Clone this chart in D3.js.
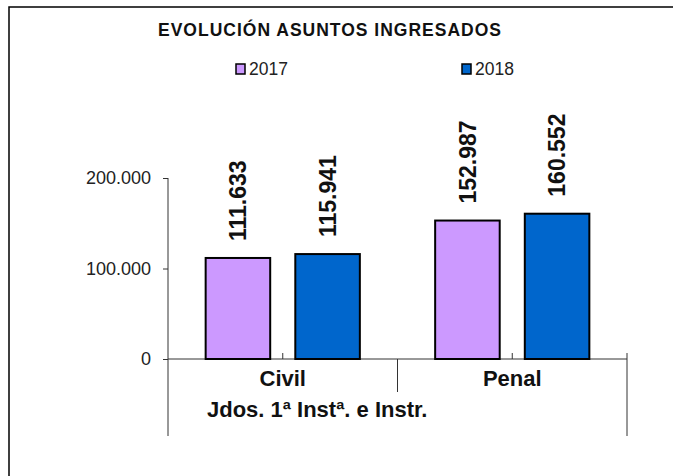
<!DOCTYPE html>
<html>
<head>
<meta charset="utf-8">
<script src="https://cdn.jsdelivr.net/npm/d3@7"></script>
<style>
  html, body { margin: 0; background: #fff; overflow: hidden; }
  svg { display: block; }
  text { font-family: Arial, "Liberation Sans", sans-serif; }
</style>
</head>
<body>
<script>
const title = "EVOLUCIÓN ASUNTOS INGRESADOS";
const categories = ["Civil", "Penal"];
const groupLabel = "Jdos. 1ª Instª. e Instr.";
const seriesNames = ["2017", "2018"];
const values2017 = [111633, 152987];
const values2018 = [115941, 160552];
const yTicks = [0, 100000, 200000];
const colors = ["#CC99FF", "#0066CC"];

async function drawChart() {

    // data

    const seriesValues = [values2017, values2018];
    const data = categories.map((c, i) => ({
        category: c,
        values: seriesNames.map((s, j) => ({ series: s, value: seriesValues[j][i] }))
    }));

    const fmt = d3.formatLocale({ decimal: ",", thousands: ".", grouping: [3], currency: ["", "€"] }).format(",d");

    // dimensions

    const dms = {
        width: 673,
        height: 476,
        margins: { top: 178, right: 46, bottom: 117, left: 168 }
    };
    dms.innerWidth = dms.width - dms.margins.left - dms.margins.right;
    dms.innerHeight = dms.height - dms.margins.top - dms.margins.bottom;

    // canvas

    const svg = d3.select("body")
                  .append("svg")
                    .attr("width", dms.width)
                    .attr("height", dms.height);

    // chart frame: only top and left edges are inside the picture
    svg.append("path")
        .attr("d", `M9,${dms.height} V7 H${dms.width}`)
        .attr("fill", "none")
        .attr("stroke", "#000")
        .attr("stroke-width", 1.5);

    const g = svg.append("g")
                 .attr("transform", `translate(${dms.margins.left},${dms.margins.top})`);

    // scales

    const x0 = d3.scaleBand()
                 .domain(categories)
                 .range([0, dms.innerWidth]);

    const x1 = d3.scaleBand()
                 .domain(seriesNames)
                 .range([0, x0.bandwidth()])
                 .paddingInner(0.28)
                 .paddingOuter(0.42);

    const yScale = d3.scaleLinear()
                     .domain([0, 200000])
                     .range([dms.innerHeight, 0]);

    const color = d3.scaleOrdinal().domain(seriesNames).range(colors);

    // title and legend

    svg.append("text")
        .attr("x", 158)
        .attr("y", 36)
        .attr("font-size", 17.5)
        .attr("font-weight", "bold")
        .attr("letter-spacing", 1)
        .attr("fill", "#111")
        .text(title);

    const legendX = [236, 462];
    const legend = svg.selectAll(".legend")
                      .data(seriesNames)
                      .enter()
                      .append("g")
                        .attr("transform", (d, i) => `translate(${legendX[i]},64)`);
    legend.append("rect")
        .attr("width", 9)
        .attr("height", 10)
        .attr("fill", d => color(d))
        .attr("stroke", "#000")
        .attr("stroke-width", 1.5);
    legend.append("text")
        .attr("x", 13)
        .attr("y", 11)
        .attr("font-size", 17.5)
        .attr("fill", "#222")
        .text(d => d);

    // y axis

    const yAxis = d3.axisLeft(yScale)
                    .tickValues(yTicks)
                    .tickFormat(fmt)
                    .tickSize(5)
                    .tickPadding(12);
    const yg = g.append("g").call(yAxis);
    yg.select(".domain").remove();
    yg.selectAll("line").attr("stroke", "#333");
    yg.selectAll("text")
        .attr("font-size", 18)
        .attr("fill", "#222")
        .style("font-family", "Arial, 'Liberation Sans', sans-serif");

    const axisColor = "#333";
    const groupBottom = 436 - dms.margins.top;

    // y axis line, running down through the category rows
    g.append("line")
        .attr("x1", 0).attr("x2", 0)
        .attr("y1", 0).attr("y2", groupBottom)
        .attr("stroke", axisColor);

    // baseline
    g.append("line")
        .attr("x1", 0).attr("x2", dms.innerWidth)
        .attr("y1", yScale(0)).attr("y2", yScale(0))
        .attr("stroke", axisColor);

    // right end of the category axis
    g.append("line")
        .attr("x1", dms.innerWidth).attr("x2", dms.innerWidth)
        .attr("y1", yScale(0) - 6).attr("y2", groupBottom)
        .attr("stroke", axisColor);

    // separators between categories
    g.selectAll(".sep")
        .data(categories.slice(1))
        .enter()
        .append("line")
          .attr("x1", d => x0(d)).attr("x2", d => x0(d))
          .attr("y1", yScale(0)).attr("y2", yScale(0) + 33)
          .attr("stroke", axisColor);

    // small ticks between bars
    g.selectAll(".minor")
        .data(categories)
        .enter()
        .append("line")
          .attr("x1", d => x0(d) + x0.bandwidth() / 2)
          .attr("x2", d => x0(d) + x0.bandwidth() / 2)
          .attr("y1", yScale(0) - 6).attr("y2", yScale(0))
          .attr("stroke", axisColor);

    // bars

    const groups = g.selectAll(".cat")
                    .data(data)
                    .enter()
                    .append("g")
                      .attr("transform", d => `translate(${x0(d.category)},0)`);

    groups.selectAll("rect")
        .data(d => d.values)
        .enter()
        .append("rect")
          .attr("x", d => x1(d.series))
          .attr("y", d => yScale(d.value))
          .attr("width", x1.bandwidth())
          .attr("height", d => yScale(0) - yScale(d.value))
          .attr("fill", d => color(d.series))
          .attr("stroke", "#000")
          .attr("stroke-width", 2);

    // value labels

    groups.selectAll(".val")
        .data(d => d.values)
        .enter()
        .append("text")
          .attr("transform", d => `translate(${x1(d.series) + x1.bandwidth() / 2},${yScale(d.value) - 17}) rotate(-90)`)
          .attr("dy", "0.36em")
          .attr("font-size", 23)
          .attr("font-weight", "bold")
          .attr("fill", "#111")
          .text(d => fmt(d.value));

    // category labels

    g.selectAll(".catlabel")
        .data(categories)
        .enter()
        .append("text")
          .attr("x", d => x0(d) + x0.bandwidth() / 2)
          .attr("y", 386 - dms.margins.top)
          .attr("text-anchor", "middle")
          .attr("font-size", 22)
          .attr("font-weight", "bold")
          .attr("fill", "#111")
          .text(d => d);

    g.append("text")
        .attr("x", 207 - dms.margins.left)
        .attr("y", 417 - dms.margins.top)
        .attr("font-size", 22)
        .attr("font-weight", "bold")
        .attr("fill", "#111")
        .text(groupLabel);
}

drawChart();
</script>
</body>
</html>
